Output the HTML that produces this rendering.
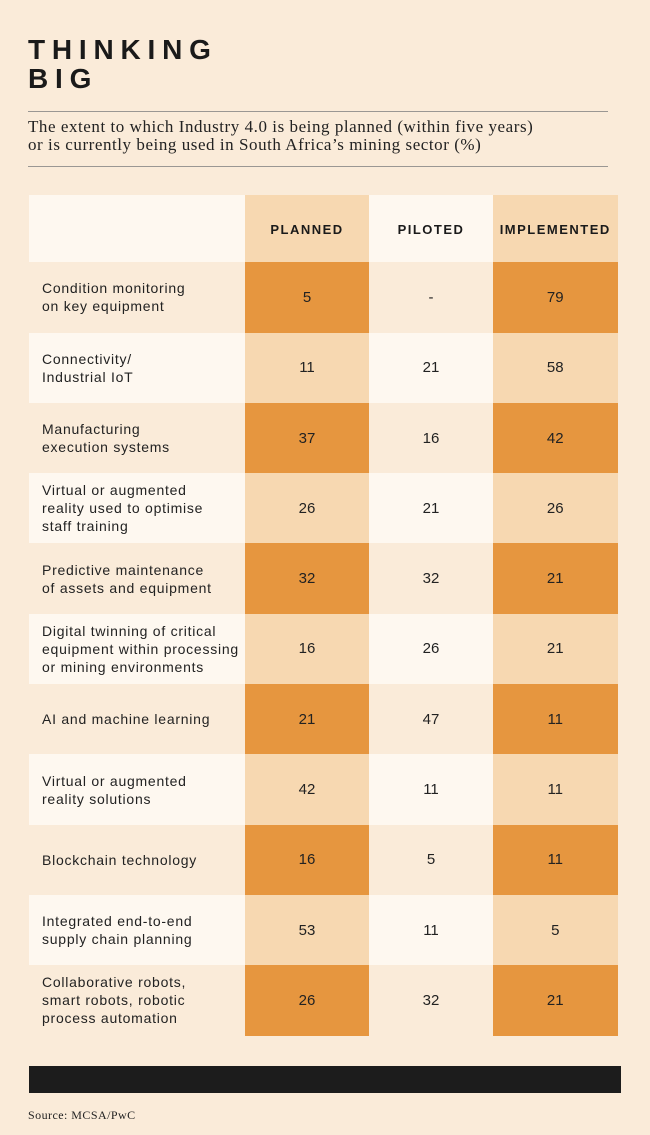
<!DOCTYPE html>
<html>
<head>
<meta charset="utf-8">
<style>
  html, body { margin:0; padding:0; }
  body { width:650px; height:1135px; background:#FAEBD9; position:relative; overflow:hidden; color:#1e1e1e; }
  .title { position:absolute; left:28px; top:35px; font-family:"Liberation Sans", sans-serif; font-weight:bold; font-size:28px; line-height:29px; letter-spacing:6.8px; color:#1a1a1a; }
  .rule { position:absolute; left:28px; width:580px; height:1px; background:#9a9793; }
  .sub { position:absolute; left:28px; top:117.5px; font-family:"Liberation Serif", serif; font-size:17px; line-height:18px; letter-spacing:0.55px; color:#222; white-space:nowrap; }
  .table { position:absolute; left:28.5px; top:195px; width:589px; }
  .row { display:grid; grid-template-columns:216.5px 124px 124px 124.5px; }
  .hdr { height:67.3px; }
  .r { height:70.3px; }
  .cell { display:flex; align-items:center; justify-content:center; font-family:"Liberation Sans", sans-serif; font-size:15px; color:#222; }
  .lab { justify-content:flex-start; padding-left:13.5px; font-size:14px; line-height:18px; letter-spacing:0.75px; color:#222; }
  .hdr .cell { font-weight:bold; font-size:13px; letter-spacing:1.5px; color:#1a1a1a; padding-top:1px; }
  .cream { background:#FEF8F0; }
  .light { background:#F7D8B1; }
  .orange { background:#E6963F; }
  .bg { background:#FAEBD9; }
  .bar { position:absolute; left:28.5px; top:1066px; width:592px; height:27px; background:#1c1c1c; }
  .src { position:absolute; left:28px; top:1108px; font-family:"Liberation Serif", serif; font-size:12px; line-height:14px; letter-spacing:0.45px; color:#222; }
</style>
</head>
<body>
  <div class="title">THINKING<br>BIG</div>
  <div class="rule" style="top:110.5px;"></div>
  <div class="sub">The extent to which Industry 4.0 is being planned (within five years)<br>or is currently being used in South Africa’s mining sector (%)</div>
  <div class="rule" style="top:166px;"></div>

  <div class="table">
    <div class="row hdr">
      <div class="cell cream"></div>
      <div class="cell light">PLANNED</div>
      <div class="cell cream">PILOTED</div>
      <div class="cell light">IMPLEMENTED</div>
    </div>
    <div class="row r">
      <div class="cell lab bg">Condition monitoring<br>on key equipment</div>
      <div class="cell orange">5</div>
      <div class="cell bg">-</div>
      <div class="cell orange">79</div>
    </div>
    <div class="row r">
      <div class="cell lab cream">Connectivity/<br>Industrial IoT</div>
      <div class="cell light">11</div>
      <div class="cell cream">21</div>
      <div class="cell light">58</div>
    </div>
    <div class="row r">
      <div class="cell lab bg">Manufacturing<br>execution systems</div>
      <div class="cell orange">37</div>
      <div class="cell bg">16</div>
      <div class="cell orange">42</div>
    </div>
    <div class="row r">
      <div class="cell lab cream">Virtual or augmented<br>reality used to optimise<br>staff training</div>
      <div class="cell light">26</div>
      <div class="cell cream">21</div>
      <div class="cell light">26</div>
    </div>
    <div class="row r">
      <div class="cell lab bg">Predictive maintenance<br>of assets and equipment</div>
      <div class="cell orange">32</div>
      <div class="cell bg">32</div>
      <div class="cell orange">21</div>
    </div>
    <div class="row r">
      <div class="cell lab cream">Digital twinning of critical<br>equipment within processing<br>or mining environments</div>
      <div class="cell light">16</div>
      <div class="cell cream">26</div>
      <div class="cell light">21</div>
    </div>
    <div class="row r">
      <div class="cell lab bg">AI and machine learning</div>
      <div class="cell orange">21</div>
      <div class="cell bg">47</div>
      <div class="cell orange">11</div>
    </div>
    <div class="row r">
      <div class="cell lab cream">Virtual or augmented<br>reality solutions</div>
      <div class="cell light">42</div>
      <div class="cell cream">11</div>
      <div class="cell light">11</div>
    </div>
    <div class="row r">
      <div class="cell lab bg">Blockchain technology</div>
      <div class="cell orange">16</div>
      <div class="cell bg">5</div>
      <div class="cell orange">11</div>
    </div>
    <div class="row r">
      <div class="cell lab cream">Integrated end-to-end<br>supply chain planning</div>
      <div class="cell light">53</div>
      <div class="cell cream">11</div>
      <div class="cell light">5</div>
    </div>
    <div class="row r">
      <div class="cell lab bg">Collaborative robots,<br>smart robots, robotic<br>process automation</div>
      <div class="cell orange">26</div>
      <div class="cell bg">32</div>
      <div class="cell orange">21</div>
    </div>
  </div>

  <div class="bar"></div>
  <div class="src">Source: MCSA/PwC</div>
</body>
</html>
